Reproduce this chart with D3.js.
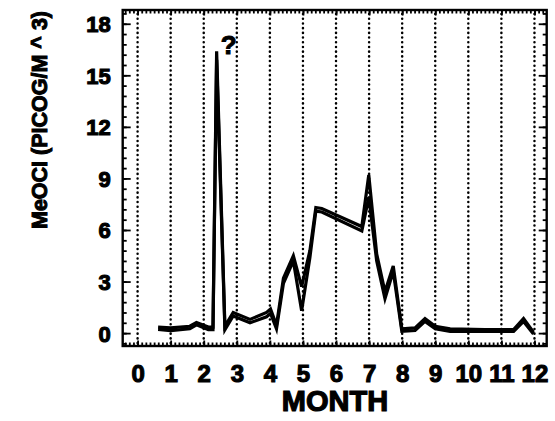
<!DOCTYPE html>
<html>
<head>
<meta charset="utf-8">
<script src="https://cdn.jsdelivr.net/npm/d3@7"></script>
<style>
  html, body { margin: 0; padding: 0; background: #fff; }
  svg { display: block; }
  text { font-family: "Liberation Sans", Arial, sans-serif; font-weight: bold; fill: #000; }
</style>
</head>
<body>
<svg id="chart" width="555" height="421"></svg>
<script>
// Sample times (month) and MeOCl concentrations
const months = [0.62, 1.0, 1.58, 1.78, 2.14, 2.28, 2.39, 2.64, 2.89, 3.4, 3.9, 4.02, 4.2, 4.41, 4.71,
  4.96, 5.21, 5.39, 5.57, 6.78, 6.99, 7.23, 7.48, 7.73, 7.99, 8.39, 8.69, 9.0, 9.45, 10.5, 11.37, 11.67, 11.97];
const seriesA = [0.35, 0.3, 0.4, 0.62, 0.35, 0.35, 16.4, 0.4, 1.2, 0.8, 1.2, 1.4, 0.45, 3.2, 4.5,
  2.7, 4.8, 7.3, 7.25, 6.2, 9.2, 4.6, 2.4, 3.9, 0.25, 0.3, 0.85, 0.4, 0.25, 0.2, 0.2, 0.85, 0.05];
const seriesB = [0.22, 0.15, 0.25, 0.48, 0.2, 0.2, 15.9, 0.2, 1.0, 0.6, 0.95, 1.15, 0.25, 2.9, 4.2,
  1.3, 4.4, 7.1, 7.05, 5.95, 7.9, 4.2, 2.0, 3.6, 0.1, 0.15, 0.68, 0.25, 0.1, 0.1, 0.1, 0.68, -0.05];

const monthTicks = d3.range(0, 13);
const valueTicks = [0, 3, 6, 9, 12, 15, 18];

const svg = d3.select("#chart");

// frame in pixels
const frame = {left: 122.7, right: 546.7, top: 10, bottom: 346};

const x = d3.scaleLinear().domain([-0.45, 12.37]).range([frame.left, frame.right]);
const y = d3.scaleLinear().domain([-0.75, 18.8]).range([frame.bottom, frame.top]);

// dotted month grid
svg.append("g")
  .selectAll("line")
  .data(monthTicks)
  .join("line")
  .attr("x1", d => x(d)).attr("x2", d => x(d))
  .attr("y1", frame.top + 4).attr("y2", frame.bottom - 2)
  .attr("stroke", "#000")
  .attr("stroke-width", 2.5)
  .attr("stroke-linecap", "round")
  .attr("stroke-dasharray", "0.1,4.6");

// inward tick marks on all four sides
const minorX = d3.range(-3, 12.37 * 8).map(i => i / 8).filter(d => d > -0.45 && d < 12.37);
const minorY = d3.range(-1, 32).map(i => i * 0.6).filter(d => d > -0.75 && d < 18.8);

function ticks(axis, tx, ty) {
  const g = svg.append("g").attr("transform", `translate(${tx},${ty})`).call(axis);
  g.select(".domain").remove();
  g.selectAll("text").remove();
  g.selectAll("line").attr("stroke", "#000").attr("stroke-width", 1.8);
}
ticks(d3.axisTop(x).tickValues(minorX).tickSize(3.5), 0, frame.bottom);
ticks(d3.axisTop(x).tickValues(monthTicks).tickSize(5.5), 0, frame.bottom);
ticks(d3.axisBottom(x).tickValues(minorX).tickSize(3.5), 0, frame.top);
ticks(d3.axisBottom(x).tickValues(monthTicks).tickSize(5.5), 0, frame.top);
ticks(d3.axisRight(y).tickValues(minorY).tickSize(4), frame.left, 0);
ticks(d3.axisRight(y).tickValues(valueTicks).tickSize(8), frame.left, 0);
ticks(d3.axisLeft(y).tickValues(minorY).tickSize(4), frame.right, 0);
ticks(d3.axisLeft(y).tickValues(valueTicks).tickSize(8), frame.right, 0);

// frame
svg.append("rect")
  .attr("x", frame.left).attr("y", frame.top)
  .attr("width", frame.right - frame.left).attr("height", frame.bottom - frame.top)
  .attr("fill", "none").attr("stroke", "#000").attr("stroke-width", 2.4);

// data lines
const line = d3.line().x(d => x(d[0])).y(d => y(d[1]));
[seriesB, seriesA].forEach(s => {
  svg.append("path")
    .datum(months.map((m, i) => [m, s[i]]))
    .attr("d", line)
    .attr("fill", "none")
    .attr("stroke", "#000")
    .attr("stroke-width", 3.2)
    .attr("stroke-linejoin", "miter");
});

// tick labels
const yLab = svg.append("g")
  .attr("transform", `translate(${frame.left},0)`)
  .call(d3.axisLeft(y).tickValues(valueTicks).tickSize(0).tickPadding(12));
yLab.select(".domain").remove();
yLab.selectAll("text")
  .style("font-size", "22px").style("font-family", "'Liberation Sans', Arial, sans-serif")
  .style("font-weight", "bold").attr("stroke", "#000").attr("stroke-width", 1.1)
  .attr("dy", "0.36em");

const xLab = svg.append("g")
  .attr("transform", `translate(0,${frame.bottom})`)
  .call(d3.axisBottom(x).tickValues(monthTicks).tickSize(0).tickPadding(19));
xLab.select(".domain").remove();
xLab.selectAll("text")
  .style("font-size", "24px").style("font-family", "'Liberation Sans', Arial, sans-serif")
  .style("font-weight", "bold").attr("stroke", "#000").attr("stroke-width", 1.1);

// axis titles
svg.append("text")
  .attr("x", 335).attr("y", 411)
  .attr("text-anchor", "middle")
  .attr("stroke", "#000").attr("stroke-width", 1.2)
  .style("font-size", "29px")
  .text("MONTH");

svg.append("text")
  .attr("transform", "translate(47,120) rotate(-90)")
  .attr("text-anchor", "middle")
  .attr("stroke", "#000").attr("stroke-width", 1.0)
  .style("font-size", "21.5px")
  .text("MeOCI  (PICOG/M ^ 3)");

// question mark annotation near the spike
svg.append("text")
  .attr("x", x(2.39) + 12).attr("y", 54)
  .attr("text-anchor", "middle")
  .attr("stroke", "#000").attr("stroke-width", 1.0)
  .style("font-size", "26px")
  .text("?");
</script>
</body>
</html>
